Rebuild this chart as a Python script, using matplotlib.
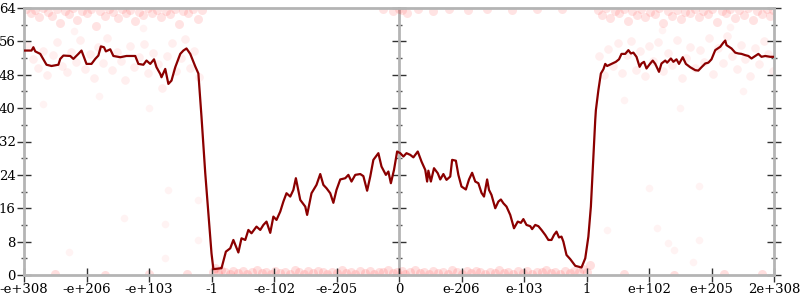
import numpy as np
import matplotlib
matplotlib.use("Agg")
import matplotlib.pyplot as plt

plt.rcParams["font.family"] = "DejaVu Serif"

# x positions are in tick units: 0 = "-e+308" ... 6 = "0" ... 12 = "2e+308"
tick_labels = ["-e+308", "-e+206", "-e+103", "-1", "-e-102", "-e-205", "0",
               "e-206", "e-103", "1", "e+102", "e+205", "2e+308"]

line_x = [0.00, 0.12, 0.15, 0.18, 0.26, 0.36, 0.44, 0.55, 0.58, 0.63, 0.74, 0.79, 0.87, 0.92,
          0.95, 1.00, 1.08, 1.14, 1.19, 1.23, 1.28, 1.31, 1.38, 1.43, 1.54, 1.64, 1.72, 1.78,
          1.83, 1.91, 1.96, 2.02, 2.08, 2.12, 2.18, 2.20, 2.26, 2.31, 2.36, 2.42, 2.50, 2.55,
          2.60, 2.66, 2.74, 2.79, 2.84, 2.90, 2.95, 3.00, 3.03, 3.14, 3.16, 3.23, 3.30, 3.35,
          3.43, 3.48, 3.54, 3.59, 3.64, 3.72, 3.78, 3.83, 3.88, 3.94, 3.99, 4.04, 4.10, 4.15,
          4.20, 4.26, 4.31, 4.35, 4.42, 4.50, 4.53, 4.60, 4.68, 4.74, 4.79, 4.84, 4.90, 4.95,
          5.00, 5.06, 5.14, 5.19, 5.24, 5.30, 5.38, 5.43, 5.49, 5.54, 5.59, 5.67, 5.72, 5.79,
          5.83, 5.87, 5.92, 5.97, 6.02, 6.07, 6.12, 6.18, 6.23, 6.30, 6.36, 6.42, 6.45, 6.47,
          6.51, 6.56, 6.62, 6.66, 6.71, 6.76, 6.82, 6.85, 6.91, 6.95, 7.00, 7.07, 7.12, 7.17,
          7.22, 7.27, 7.32, 7.36, 7.41, 7.44, 7.48, 7.54, 7.59, 7.63, 7.67, 7.72, 7.78, 7.84,
          7.90, 7.95, 7.99, 8.04, 8.10, 8.13, 8.18, 8.23, 8.28, 8.34, 8.39, 8.44, 8.48, 8.52,
          8.56, 8.60, 8.63, 8.68, 8.74, 8.82, 8.92, 8.98, 9.03, 9.07, 9.11, 9.14, 9.15, 9.19,
          9.23, 9.27, 9.30, 9.33, 9.40, 9.47, 9.52, 9.56, 9.62, 9.67, 9.71, 9.75, 9.80, 9.85,
          9.88, 9.92, 9.96, 10.02, 10.06, 10.10, 10.16, 10.20, 10.26, 10.29, 10.35, 10.39,
          10.44, 10.48, 10.54, 10.59, 10.66, 10.74, 10.79, 10.84, 10.90, 10.95, 11.00, 11.06,
          11.14, 11.19, 11.22, 11.24, 11.32, 11.38, 11.43, 11.48, 11.54, 11.59, 11.64, 11.70,
          11.75, 11.80, 11.86, 11.94, 12.00]
line_y = [53.8, 53.8, 54.6, 53.6, 53.0, 50.4, 50.1, 50.4, 51.8, 52.6, 52.5, 51.8, 53.0, 53.8,
          52.6, 50.6, 50.6, 51.8, 52.6, 54.8, 54.6, 53.6, 54.1, 52.5, 52.2, 52.5, 52.5, 52.5,
          50.6, 50.4, 51.4, 50.6, 51.7, 49.8, 48.2, 47.4, 49.4, 45.8, 46.6, 49.8, 53.0, 53.8,
          54.3, 53.0, 50.0, 48.3, 37.9, 24.4, 14.8, 5.2, 1.4, 1.6, 1.6, 5.6, 6.4, 8.4,
          5.4, 8.8, 8.4, 10.8, 10.0, 11.6, 10.8, 12.0, 12.8, 10.1, 14.0, 13.2, 15.2, 17.6,
          19.6, 18.8, 20.4, 23.2, 18.0, 16.4, 14.4, 19.6, 21.6, 24.2, 21.6, 20.8, 19.6, 17.3,
          20.4, 22.9, 23.2, 24.0, 22.4, 24.0, 24.2, 23.7, 20.2, 23.6, 27.6, 29.2, 26.0, 24.0,
          24.8, 22.0, 25.2, 29.6, 29.2, 28.4, 29.2, 28.8, 28.2, 29.6, 27.2, 25.2, 22.4, 25.0,
          22.4, 25.6, 24.4, 22.9, 24.2, 22.8, 23.6, 27.6, 27.4, 24.0, 21.2, 20.5, 22.9, 24.5,
          22.4, 22.0, 19.7, 18.8, 22.9, 20.4, 19.2, 16.0, 17.6, 18.1, 17.2, 16.4, 14.4, 11.2,
          12.8, 12.5, 13.4, 12.0, 11.7, 11.0, 12.0, 11.7, 10.8, 9.6, 8.4, 8.4, 9.6, 10.4,
          9.0, 9.2, 8.0, 4.8, 3.8, 2.2, 1.8, 4.0, 9.2, 16.4, 28.4, 37.2, 39.5, 44.3,
          48.3, 49.3, 50.6, 50.1, 50.6, 51.1, 51.7, 53.0, 53.0, 53.9, 53.1, 53.3, 52.3, 49.9,
          50.7, 51.1, 49.5, 50.7, 51.4, 50.6, 48.7, 50.7, 51.4, 50.9, 51.9, 51.1,
          51.7, 50.6, 52.2, 50.6, 49.8, 49.1, 49.0, 49.8, 50.7, 50.9, 51.7, 53.9,
          54.7, 55.7, 56.2, 55.1, 54.3, 53.3, 53.1, 53.0, 52.7, 52.5, 51.9, 52.5,
          53.0, 52.3, 52.5, 52.3, 52.3]

# faint samples: band along the top, band along the bottom, cloud round the plateaus, strays
top_x = [0.03, 0.11, 0.18, 0.24, 0.31, 0.38, 0.45, 0.52, 0.58, 0.66, 0.72, 0.79, 0.85, 0.93,
         1.01, 1.07, 1.15, 1.21, 1.29, 1.36, 1.42, 1.50, 1.57, 1.63, 1.70, 1.78, 1.84, 1.91,
         1.98, 2.05, 2.12, 2.19, 2.27, 2.33, 2.41, 2.48, 2.55, 2.62, 2.70, 2.78, 2.84,
         9.18, 9.25, 9.31, 9.38, 9.45, 9.52, 9.60, 9.66, 9.73, 9.80, 9.87, 9.94, 10.01, 10.09,
         10.16, 10.22, 10.30, 10.37, 10.44, 10.51, 10.58, 10.66, 10.73, 10.80, 10.87, 10.94,
         11.01, 11.08, 11.16, 11.23, 11.30, 11.37, 11.44, 11.52, 11.59, 11.66, 11.73, 11.80,
         11.88, 11.94, 11.99,
         5.75, 5.90, 6.00, 6.05, 6.12, 6.30, 6.55, 6.80, 7.10, 7.40, 7.80, 8.20, 8.60]
top_y = [63.8, 62.9, 63.6, 61.8, 63.9, 63.1, 62.2, 63.7, 60.5, 63.4, 62.6, 63.9, 61.2, 63.3,
         62.7, 63.8, 59.8, 63.2, 62.1, 63.7, 63.0, 61.5, 63.8, 62.8, 63.5, 60.8, 63.1, 62.4,
         63.9, 62.9, 63.6, 61.9, 63.2, 62.5, 63.8, 60.2, 63.4, 62.7, 63.7, 61.4, 63.5,
         63.6, 62.4, 63.9, 61.6, 63.2, 62.8, 63.7, 60.9, 63.4, 62.3, 63.8, 61.8, 63.1, 62.6,
         63.9, 60.4, 63.3, 62.2, 63.6, 61.3, 63.0, 62.7, 63.8, 61.9, 63.4, 62.5,
         63.7, 60.7, 63.2, 62.9, 63.8, 61.6, 63.5, 62.3, 63.9, 61.1, 63.3, 62.6,
         63.7, 62.0, 63.5,
         63.7, 63.2, 63.8, 63.5, 62.9, 63.7, 63.4, 63.8, 63.5, 63.8, 63.6, 63.8, 63.7]

bottom_x = [3.02, 3.06, 3.10, 3.15, 3.22, 3.29, 3.35, 3.42, 3.50, 3.57, 3.65, 3.72, 3.80, 3.87,
            3.95, 4.02, 4.10, 4.17, 4.25, 4.33, 4.40, 4.48, 4.55, 4.62, 4.70, 4.78, 4.85, 4.93,
            5.00, 5.08, 5.15, 5.23, 5.30, 5.38, 5.45, 5.53, 5.60, 5.68, 5.75, 5.83, 5.90, 5.97,
            6.04, 6.10, 6.18, 6.25, 6.33, 6.40, 6.48, 6.55, 6.63, 6.70, 6.78, 6.85, 6.93, 7.00,
            7.08, 7.15, 7.23, 7.30, 7.38, 7.45, 7.53, 7.60, 7.68, 7.75, 7.83, 7.90, 7.98, 8.05,
            8.13, 8.20, 8.28, 8.35, 8.43, 8.50, 8.58, 8.65, 8.73, 8.80, 8.88, 8.95, 9.00, 9.05,
            0.50, 1.30, 2.00, 2.60, 9.60, 10.40, 11.20, 11.80]
bottom_y = [0.8, 1.6, 0.4, 1.1, 0.6, 0.2, 1.0, 0.5, 0.9, 0.3, 0.7, 1.2, 0.4, 0.8,
            0.2, 1.0, 0.5, 0.8, 0.3, 1.1, 0.6, 0.2, 0.9, 0.4, 1.0, 0.6, 0.3, 0.8,
            0.5, 1.1, 0.4, 0.7, 0.2, 0.9, 0.5, 1.0, 0.3, 0.8, 0.6, 1.2, 0.4, 0.7,
            0.9, 0.3, 0.7, 1.1, 0.4, 0.8, 0.2, 1.0, 0.5, 0.8, 0.3, 1.1, 0.6, 0.2,
            0.9, 0.4, 1.0, 0.6, 0.3, 0.8, 0.5, 1.1, 0.4, 0.7, 0.2, 0.9, 0.5, 1.0,
            0.3, 0.8, 0.6, 1.2, 0.4, 0.7, 0.2, 0.9, 0.5, 1.0, 0.6, 1.4, 0.8, 2.5,
            0.2, 0.1, 0.3, 0.2, 0.2, 0.1, 0.3, 0.2]

cloud_x = [0.05, 0.14, 0.22, 0.30, 0.37, 0.46, 0.53, 0.60, 0.68, 0.75, 0.83, 0.90, 0.97, 1.05,
           1.12, 1.18, 1.26, 1.33, 1.40, 1.48, 1.55, 1.62, 1.69, 1.76, 1.84, 1.92, 1.99, 2.06,
           2.14, 2.21, 2.29, 2.36, 2.43, 2.51, 2.58, 2.65, 2.72, 2.80,
           9.20, 9.28, 9.35, 9.42, 9.50, 9.57, 9.64, 9.71, 9.79, 9.86, 9.93, 10.00, 10.07, 10.15,
           10.22, 10.30, 10.37, 10.44, 10.52, 10.59, 10.66, 10.74, 10.81, 10.88, 10.96, 11.03,
           11.10, 11.18, 11.25, 11.32, 11.40, 11.47, 11.54, 11.62, 11.69, 11.76, 11.84, 11.91,
           11.98]
cloud_y = [55.2, 51.8, 49.5, 53.8, 47.9, 52.7, 55.9, 50.2, 48.6, 53.4, 51.1, 56.3, 49.4, 52.9,
           47.2, 54.6, 50.8, 56.8, 49.1, 53.5, 51.4, 46.8, 54.9, 49.8, 52.2, 55.4, 48.3, 53.1,
           50.6, 44.9, 52.4, 55.7, 48.8, 51.9, 56.5, 49.6, 53.8, 47.5,
           52.5, 47.9, 54.2, 50.1, 55.6, 48.4, 52.8, 56.1, 49.2, 53.6, 47.6, 54.9, 51.3, 55.8,
           48.9, 53.2, 50.4, 56.4, 47.3, 52.1, 54.7, 49.7, 53.9, 51.0, 56.9, 48.1,
           54.3, 50.7, 57.3, 52.6, 49.3, 55.1, 51.8, 47.8, 54.5, 50.5, 56.0, 52.9,
           49.0]

stray_x = [0.72, 1.60, 2.26, 2.26, 2.30, 2.78, 2.78, 10.00, 9.33, 10.13, 10.30, 10.40, 10.80,
           10.70, 10.80, 0.30, 1.20, 2.00, 9.60, 10.50, 11.50, 0.80, 1.90, 10.20, 11.30]
stray_y = [5.5, 13.7, 12.2, 4.1, 20.4, 8.4, 18.0, 20.9, 10.8, 11.3, 7.7, 6.0, 8.4,
           3.1, 21.3, 41.0, 43.0, 40.0, 42.0, 40.0, 44.0, 58.5, 59.2, 58.8, 59.5]

GREY = "#b4b4b4"

fig = plt.figure(figsize=(8, 3), dpi=100)
ax = fig.add_axes([24 / 800, 25 / 300, 750 / 800, 267 / 300])

ax.scatter(top_x, top_y, s=42, color="#ff2020", linewidths=0, alpha=0.12, zorder=1)
ax.scatter(bottom_x, bottom_y, s=42, color="#ff2020", linewidths=0, alpha=0.14, zorder=1)
ax.scatter(cloud_x, cloud_y, s=38, color="#ff2020", linewidths=0, alpha=0.07, zorder=1)
ax.scatter(stray_x, stray_y, s=30, color="#ff2020", linewidths=0, alpha=0.05, zorder=1)

ax.plot(line_x, line_y, color="#8b0000", lw=1.6, zorder=3)

ax.set_xlim(0, 12)
ax.set_ylim(0, 64)
ax.set_xticks(np.arange(len(tick_labels)))
ax.set_xticklabels(tick_labels)
ax.set_yticks(np.arange(0, 65, 8))
ax.set_yticks(np.arange(4, 64, 8), minor=True)

for sp in ax.spines.values():
    sp.set_color(GREY)
    sp.set_linewidth(2)

ax.yaxis.set_ticks_position("both")
ax.tick_params(axis="y", which="major", direction="inout", length=10, width=1,
               color="#333333", labelsize=9.5, pad=1, labelright=False)
ax.tick_params(axis="y", which="minor", direction="inout", length=5, width=1, color="#555555")
ax.tick_params(axis="x", which="major", direction="inout", length=10, width=1,
               color="#333333", labelsize=9.5, pad=1)

# middle axis at zero, ticks only
mid = ax.secondary_yaxis(0.5)
mid.set_yticks(np.arange(0, 65, 8))
mid.set_yticks(np.arange(4, 64, 8), minor=True)
mid.set_yticklabels([])
for sp in mid.spines.values():
    sp.set_color(GREY)
    sp.set_linewidth(2)
mid.tick_params(which="major", direction="inout", length=10, width=1, color="#333333",
                labelleft=False, labelright=False)
mid.tick_params(which="minor", direction="inout", length=5, width=1, color="#555555")

fig.savefig("out.png", dpi=100)
